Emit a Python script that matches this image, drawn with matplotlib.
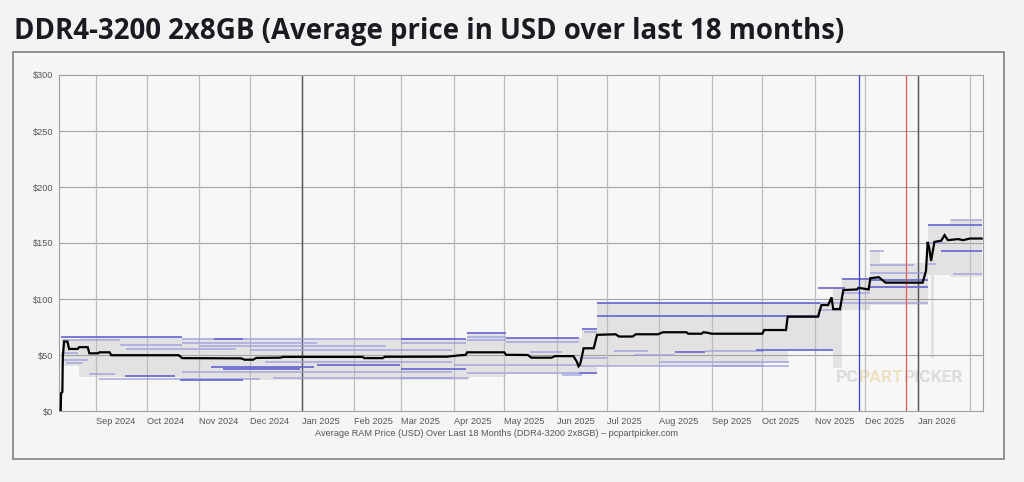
import matplotlib
matplotlib.use("Agg")
import matplotlib.pyplot as plt
import matplotlib.dates as mdates
import pandas as pd
from matplotlib.patches import Rectangle

# ---------------- data ----------------
avg_dates = ["2024-08-11", "2024-08-11 06:00", "2024-08-12", "2024-08-12 06:00", "2024-08-13",
             "2024-08-15", "2024-08-16", "2024-08-21", "2024-08-22", "2024-08-27", "2024-08-28",
             "2024-09-02", "2024-09-03", "2024-09-09", "2024-09-10", "2024-10-20", "2024-10-22",
             "2024-11-26", "2024-11-28", "2024-12-03", "2024-12-05", "2024-12-19", "2024-12-21",
             "2025-02-06", "2025-02-07", "2025-02-18", "2025-02-19", "2025-03-28", "2025-04-05",
             "2025-04-08", "2025-04-09", "2025-05-01", "2025-05-02", "2025-05-15", "2025-05-17",
             "2025-05-29", "2025-05-31", "2025-06-11", "2025-06-13", "2025-06-14", "2025-06-15",
             "2025-06-16", "2025-06-17", "2025-06-23", "2025-06-25", "2025-07-06", "2025-07-08",
             "2025-07-16", "2025-07-18", "2025-07-31", "2025-08-03", "2025-08-17", "2025-08-18",
             "2025-08-26", "2025-08-27", "2025-08-29", "2025-09-01", "2025-10-01", "2025-10-02",
             "2025-10-15", "2025-10-16", "2025-11-03", "2025-11-05", "2025-11-09", "2025-11-11",
             "2025-11-12", "2025-11-16", "2025-11-18", "2025-11-26", "2025-11-27", "2025-12-01",
             "2025-12-03", "2025-12-04", "2025-12-09", "2025-12-13", "2026-01-04", "2026-01-06",
             "2026-01-07", "2026-01-08", "2026-01-09", "2026-01-11", "2026-01-15", "2026-01-17",
             "2026-01-19", "2026-01-25", "2026-01-28", "2026-02-01", "2026-02-08"]
avg_prices = [0, 16, 17, 48, 62,
              62, 55.4, 55.4, 57, 57, 51.5,
              51.5, 52.4, 52.4, 49.8, 49.8, 47.2,
              47, 45.8, 45.8, 47.4, 47.6, 48.3,
              48.3, 47.2, 47.2, 48.4, 48.5, 49.8,
              50, 52.4, 52.4, 50.2, 50, 47.6,
              47.6, 49, 49, 44, 40, 42,
              48.5, 56, 56, 68, 68.5, 66.5,
              66.5, 68.5, 68.5, 70.3, 70.3, 69,
              69, 70.3, 70, 69, 69, 72.3,
              72.3, 84.2, 84.2, 94.6, 94.6, 101.5,
              91, 91, 108, 108.5, 110, 109,
              108.5, 118.5, 119.5, 114.6, 114.6, 125,
              151, 145, 134, 151, 152, 157,
              152.5, 153.5, 152.5, 154, 154]

# price range band (min / max of listed products)
band_dates = ["2024-08-12", "2024-08-22", "2024-10-22", "2025-04-09", "2025-05-02", "2025-06-16",
              "2025-06-25", "2025-10-02", "2025-10-16", "2025-11-12", "2025-11-17", "2025-12-04",
              "2025-12-10", "2026-01-07", "2026-01-09", "2026-01-11", "2026-01-20", "2026-02-08"]
band_low = [40, 30, 28, 30, 33, 33, 40, 43, 54.5, 38, 90, 94.6, 94.6, 121, 47, 121, 120, 120]
band_high = [63, 66, 64.5, 70, 65, 73, 97, 97, 97.6, 110, 118.5, 143.8, 132, 166, 166, 166,
             170.5, 170.5]

# individual retailer prices (prominent)
strong_start = ["2024-08-11", "2024-11-10", "2024-11-08", "2024-11-15", "2024-09-18", "2024-10-21",
                "2025-01-10", "2025-04-09", "2025-03-01", "2025-05-02", "2025-06-16", "2025-06-14",
                "2025-06-25", "2025-06-25", "2025-08-10", "2025-09-27", "2025-11-03", "2025-11-17",
                "2025-12-04", "2025-12-04", "2026-01-07", "2026-01-15", "2025-03-01"]
strong_end = ["2024-10-22", "2024-11-27", "2025-01-08", "2024-12-31", "2024-10-18", "2024-11-27",
              "2025-02-28", "2025-05-02", "2025-04-08", "2025-06-14", "2025-06-25", "2025-06-25",
              "2025-11-04", "2025-11-04", "2025-08-28", "2025-11-12", "2025-11-19", "2025-12-04",
              "2026-01-07", "2026-01-07", "2026-02-08", "2026-02-08", "2025-04-08"]
strong_price = [65.8, 64.3, 39, 37.5, 31.5, 27.7,
                41, 70, 64, 64.9, 73, 34,
                96.5, 85, 52.4, 54.5, 110, 117.6,
                117.2, 110.4, 166, 143, 37.2]

# individual retailer prices (faint)
faint_start = ["2024-08-12", "2024-09-15", "2024-09-19", "2024-08-11", "2024-08-13", "2024-08-14",
               "2024-08-28", "2024-09-03", "2024-10-22", "2024-10-22", "2024-11-01", "2024-12-01",
               "2024-12-10", "2024-11-26", "2024-10-22", "2024-12-15", "2025-04-09", "2025-04-09",
               "2025-04-01", "2025-03-01", "2025-04-09", "2025-02-28", "2025-05-02", "2025-05-16",
               "2025-06-04", "2025-06-17", "2025-07-05", "2025-07-17", "2025-08-28", "2025-06-14",
               "2025-06-14", "2025-08-01", "2025-09-01", "2025-11-03", "2025-11-17", "2025-11-03",
               "2025-12-04", "2025-12-04", "2025-12-04", "2025-12-04", "2026-01-21", "2026-01-22",
               "2026-01-07", "2026-01-07"]
faint_end = ["2024-09-15", "2024-10-22", "2024-11-23", "2024-08-21", "2024-08-27", "2024-08-24",
             "2024-09-12", "2024-12-07", "2025-03-31", "2025-01-10", "2025-02-20", "2025-03-31",
             "2025-03-31", "2024-12-31", "2025-03-31", "2025-03-31", "2025-05-02", "2025-05-02",
             "2025-06-14", "2025-04-08", "2025-06-14", "2025-04-10", "2025-06-14", "2025-06-04",
             "2025-06-16", "2025-06-25", "2025-07-25", "2025-08-10", "2025-10-02", "2025-10-02",
             "2025-07-01", "2025-10-17", "2025-10-17", "2025-11-17", "2025-12-04", "2025-12-04",
             "2026-01-07", "2026-01-06", "2025-12-30", "2025-12-12", "2026-02-08", "2026-02-08",
             "2026-01-17", "2026-01-12"]
faint_price = [63, 59, 55.4, 51.5, 45.5, 42.6,
               33, 29, 64.3, 61, 58.3, 54.5,
               43.5, 38.7, 35, 29.7, 66.4, 63.4,
               41, 60.4, 34.2, 29.2, 62, 53,
               32, 70.3, 53.6, 50, 53.6, 40,
               47, 44, 40.5, 90.2, 105.6, 96.2,
               96.7, 123, 130.4, 143, 170.5, 122,
               149.7, 131]

month_ticks = pd.date_range("2024-09-01", "2026-02-01", freq="MS")
month_labels = [d.strftime("%b %Y") for d in month_ticks[:-1]] + [""]
year_lines = ["2025-01-01", "2026-01-01"]
marker_blue = "2025-11-27"
marker_red = "2025-12-25"
x_start, x_end = "2024-08-10", "2026-02-08 12:00"
y_ticks = [0, 50, 100, 150, 200, 250, 300]
y_labels = ["$" + str(v) for v in y_ticks]

title = "DDR4-3200 2x8GB (Average price in USD over last 18 months)"
xlabel = "Average RAM Price (USD) Over Last 18 Months (DDR4-3200 2x8GB) \u2013 pcpartpicker.com"

# ---------------- plotting ----------------
def d2n(seq):
    return mdates.date2num(pd.to_datetime(pd.Series(list(seq)).astype(str), format="mixed"))

W, H = 1024, 482
fig = plt.figure(figsize=(W / 100, H / 100), dpi=100, facecolor="#f3f3f3")

# outer frame
fig.patches.append(Rectangle((12.7 / W, 1 - 459 / H), (1004 - 12.7) / W, (459 - 51.7) / H,
                             transform=fig.transFigure, facecolor="#f5f5f5",
                             edgecolor="#8a8a8a", linewidth=1.3, zorder=-10))

fig.text(14 / W, 1 - 39.5 / H, title, fontsize=19.9, fontweight="bold",
         family="Open Sans", color="#1a1a20", ha="left", va="baseline")

ax = fig.add_axes([59 / W, 71 / H, (982.5 - 59) / W, (411 - 75) / H], zorder=2)
ax.set_facecolor("#f7f7f7")
ax.set_xlim(d2n([x_start])[0], d2n([x_end])[0])
ax.set_ylim(0, 300)

# gridlines
for v in y_ticks[1:-1]:
    ax.axhline(v, color="#a3a3a3", lw=0.8, zorder=1.5)
for m in d2n(month_ticks):
    ax.axvline(m, color="#bdbdbd", lw=0.9, zorder=1.5)
for m in d2n(year_lines):
    ax.axvline(m, color="#555555", lw=1.0, zorder=1.6)

# band
ax.fill_between(d2n(band_dates), band_low, band_high, step="post",
                color="#e2e2e2", lw=0, zorder=1)

# retailer lines
ax.hlines(faint_price, d2n(faint_start), d2n(faint_end), color="#9e9ee0",
          lw=1.3, alpha=0.75, zorder=2)
ax.hlines(strong_price, d2n(strong_start), d2n(strong_end), color="#6464d2",
          lw=1.4, alpha=0.85, zorder=2.1)

# markers
ax.axvline(d2n([marker_blue])[0], color="#3a3ad0", lw=0.9, zorder=3)
ax.axvline(d2n([marker_red])[0], color="#ee5a5a", lw=0.9, zorder=3)

# average
ax.plot(d2n(avg_dates), avg_prices, color="black", lw=1.6, zorder=4,
        solid_joinstyle="miter")

# ticks
ax.set_yticks(y_ticks)
ax.set_yticklabels(y_labels)
ax.set_xticks(d2n(month_ticks))
ax.set_xticklabels(month_labels)
ax.tick_params(length=0, labelsize=6.6, labelcolor="#555555")
ax.tick_params(axis="y", pad=4)
ax.tick_params(axis="x", pad=4)
for lab in ax.get_xticklabels():
    lab.set_horizontalalignment("left")
    lab.set_fontfamily("Liberation Sans")
for lab in ax.get_yticklabels():
    lab.set_fontfamily("Liberation Sans")

for side in ["left", "bottom", "top", "right"]:
    ax.spines[side].set_color("#a0a0a0")
    ax.spines[side].set_linewidth(0.8)

fig.text(497 / W, 1 - 434 / H, xlabel, fontsize=6.6, family="Liberation Sans",
         color="#555555", ha="center", va="center")

# watermark
wm = [("PC", "#dcdcdc"), ("PART", "#efe2c4"), ("PICKER", "#dcdcdc")]
x = 836 / W
fig.canvas.draw()
r = fig.canvas.get_renderer()
for word, col in wm:
    t = ax.text(x, 1 - 377 / H, word, fontsize=12.5, fontweight="bold", family="Roboto",
                color=col, ha="left", va="center", zorder=1.2, transform=fig.transFigure)
    bb = t.get_window_extent(renderer=r)
    x += bb.width / W

fig.savefig("out.png", dpi=100, facecolor=fig.get_facecolor())
